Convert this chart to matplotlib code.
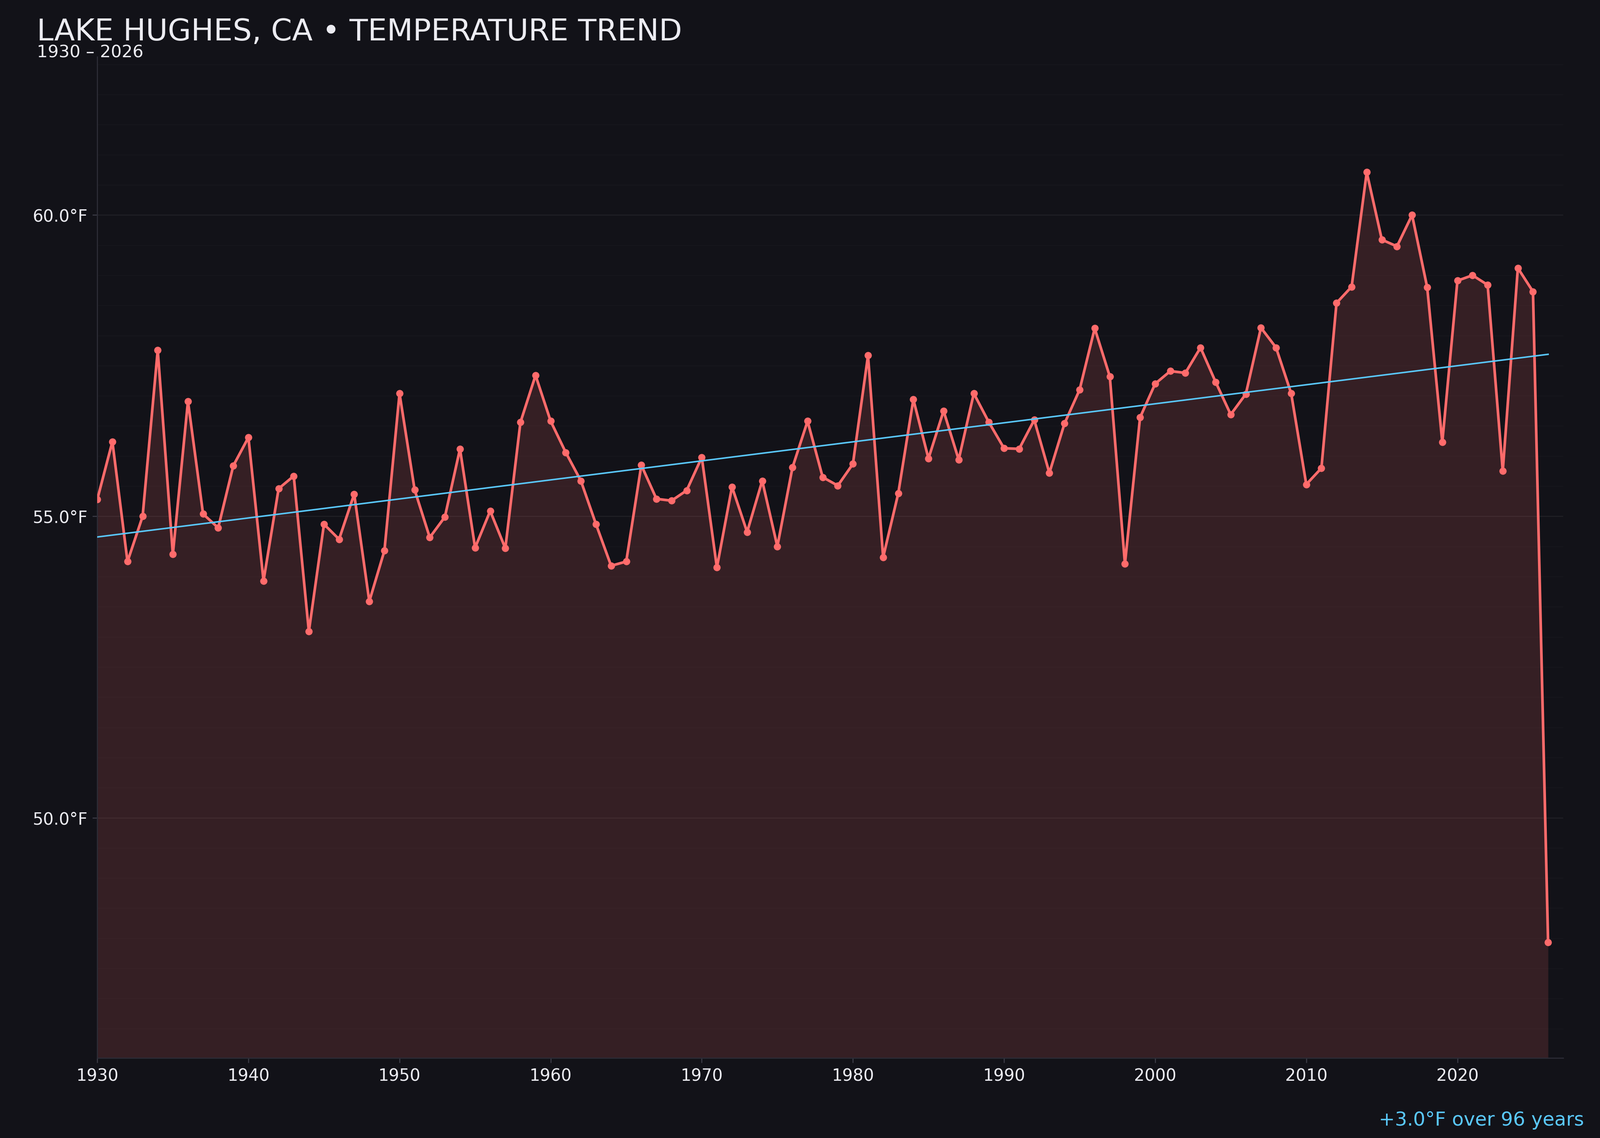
"""
Lake Hughes annual mean temperature with linear trend
"""
import numpy as np
import matplotlib
matplotlib.use("Agg")
import matplotlib.pyplot as plt
from matplotlib.ticker import MultipleLocator, FuncFormatter

# ---------------------------------------------------------------------------
# Data
# ---------------------------------------------------------------------------
years = list(range(1930, 2027))
temps = [
    55.28, 56.24, 54.25, 55.00, 57.76, 54.37, 56.91, 55.04, 54.81, 55.84,  # 1930s
    56.31, 53.93, 55.46, 55.67, 53.09, 54.87, 54.62, 55.37, 53.59, 54.43,  # 1940s
    57.04, 55.44, 54.65, 54.99, 56.12, 54.48, 55.09, 54.47, 56.56, 57.34,  # 1950s
    56.58, 56.06, 55.59, 54.87, 54.18, 54.25, 55.85, 55.29, 55.26, 55.43,  # 1960s
    55.98, 54.15, 55.49, 54.74, 55.59, 54.50, 55.81, 56.58, 55.65, 55.51,  # 1970s
    55.87, 57.67, 54.32, 55.38, 56.94, 55.96, 56.75, 55.94, 57.04, 56.56,  # 1980s
    56.13, 56.12, 56.60, 55.72, 56.54, 57.10, 58.12, 57.32, 54.21, 56.64,  # 1990s
    57.20, 57.41, 57.38, 57.80, 57.23, 56.69, 57.03, 58.13, 57.80, 57.04,  # 2000s
    55.53, 55.80, 58.54, 58.81, 60.71, 59.59, 59.48, 60.00, 58.80, 56.23,  # 2010s
    58.91, 59.00, 58.84, 55.75, 59.12, 58.73, 47.93,                       # 2020s
]
title = "LAKE HUGHES, CA \u2022 TEMPERATURE TREND"
subtitle = "1930 \u2013 2026"

# colours
BG = "#121218"
LINE = "#ff6b6b"
TREND = "#5ac8fa"
TEXT = "#ececf2"

# ---------------------------------------------------------------------------
# Trend
# ---------------------------------------------------------------------------
x = np.array(years, dtype=float)
y = np.array(temps)
slope, intercept = np.polyfit(x, y, 1)
trend = slope * x + intercept
span = years[-1] - years[0]
change = slope * span

# ---------------------------------------------------------------------------
# Plot
# ---------------------------------------------------------------------------
fig = plt.figure(figsize=(16, 11.376), dpi=250, facecolor=BG)
ax = fig.add_axes([0.0608, 0.0703, 0.9162, 0.8799])
ax.set_facecolor(BG)

rng = y.max() - y.min()
ymin, ymax = y.min() - 0.15 * rng, y.max() + 0.15 * rng

ax.fill_between(x, y, ymin, color=LINE, alpha=0.15, linewidth=0, zorder=1)
ax.plot(x, y, color=LINE, lw=1.9, marker="o", markersize=4.2, zorder=3)
ax.plot(x, trend, color=TREND, lw=1.1, zorder=4)

ax.set_xlim(years[0], years[-1] + 1)
ax.set_ylim(ymin, ymax)

ax.xaxis.set_major_locator(MultipleLocator(10))
ax.yaxis.set_major_locator(MultipleLocator(5))
ax.yaxis.set_minor_locator(MultipleLocator(0.5))
ax.yaxis.set_major_formatter(FuncFormatter(lambda v, p: f"{v:.1f}\u00b0F"))

ax.grid(axis="y", which="major", color="#ffffff", alpha=0.06, lw=0.8)
ax.grid(axis="y", which="minor", color="#ffffff", alpha=0.018, lw=0.8)
ax.set_axisbelow(True)

ax.tick_params(colors="#3a3a44", labelcolor=TEXT, labelsize=12)
ax.tick_params(axis="y", which="minor", length=0)
for side in ("top", "right"):
    ax.spines[side].set_visible(False)
for side in ("left", "bottom"):
    ax.spines[side].set_color("#2c2c36")

fig.text(0.023, 0.9645, title, color=TEXT, fontsize=21.7, ha="left", va="baseline")
fig.text(0.023, 0.9495, subtitle, color=TEXT, fontsize=12.3, ha="left", va="baseline")
fig.text(0.99, 0.011, f"+{change:.1f}\u00b0F over {span} years", color=TREND,
         fontsize=13.8, ha="right", va="baseline")

fig.savefig("out.png", dpi=250, facecolor=BG)
